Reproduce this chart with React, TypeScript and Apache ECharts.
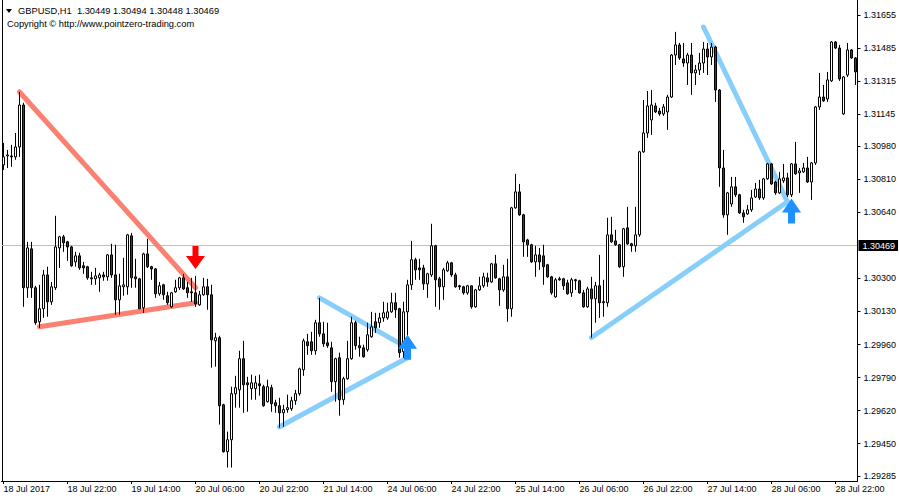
import React, { useEffect, useRef } from 'react';
import * as echarts from 'echarts';

const FONT = '"Liberation Sans", Arial, sans-serif';
const SYMBOL_TITLE = 'GBPUSD,H1';
const HEADER_OHLC = ['1.30449', '1.30494', '1.30448', '1.30469'];
const COPYRIGHT = 'Copyright \u00a9 http://www.pointzero-trading.com';
const CURRENT_PRICE = 1.30469;
const Y_MIN = 1.29258;
const Y_MAX = 1.31732;
const Y_TICKS = [1.29285, 1.2945, 1.2962, 1.2979, 1.2996, 1.3013, 1.303, 1.3064, 1.3081, 1.3098, 1.31145, 1.31315, 1.31485, 1.31655];
const X_TICK_LABELS = ['18 Jul 2017', '18 Jul 22:00', '19 Jul 14:00', '20 Jul 06:00', '20 Jul 22:00', '21 Jul 14:00', '24 Jul 06:00', '24 Jul 22:00', '25 Jul 14:00', '26 Jul 06:00', '26 Jul 22:00', '27 Jul 14:00', '28 Jul 06:00', '28 Jul 22:00'];

const OPEN = [
  1.30884, 1.3093, 1.3093, 1.30925, 1.30976, 1.31192, 1.30252, 1.30452, 1.30252, 1.30077,
  1.30144, 1.30318, 1.3018, 1.30252, 1.30457, 1.30514, 1.30488, 1.30462, 1.30385, 1.30416,
  1.30365, 1.3036, 1.30303, 1.30298, 1.30303, 1.30318, 1.30308, 1.30421, 1.30318, 1.3019,
  1.30257, 1.30257, 1.30519, 1.30308, 1.30298, 1.30149, 1.30426, 1.3036, 1.30349, 1.30221,
  1.30267, 1.30211, 1.30154, 1.30231, 1.30252, 1.30303, 1.30252, 1.30231, 1.30226, 1.30164,
  1.30216, 1.30257, 1.30216, 1.29979, 1.29995, 1.2965, 1.29409, 1.2947, 1.29707, 1.29727,
  1.29887, 1.29763, 1.29733, 1.29733, 1.29758, 1.29743, 1.29666, 1.29738, 1.29661, 1.29645,
  1.29609, 1.29625, 1.2963, 1.29671, 1.29707, 1.2983, 1.29974, 1.29974, 1.29928, 1.30072,
  1.30015, 1.29969, 1.29943, 1.29769, 1.29892, 1.29676, 1.29784, 1.29887, 1.30072, 1.29954,
  1.29943, 1.29933, 1.3, 1.30077, 1.30072, 1.30097, 1.30097, 1.30128, 1.30175, 1.30144,
  1.29923, 1.30128, 1.30267, 1.30396, 1.30354, 1.30354, 1.30272, 1.30318, 1.30468, 1.30298,
  1.30257, 1.30339, 1.3038, 1.30318, 1.30262, 1.30257, 1.30226, 1.30262, 1.30154, 1.30241,
  1.30262, 1.30303, 1.30282, 1.30375, 1.30298, 1.30241, 1.30308, 1.30144, 1.30663, 1.30745,
  1.30627, 1.30498, 1.30473, 1.30385, 1.30421, 1.30416, 1.3037, 1.30308, 1.30205, 1.30298,
  1.30298, 1.30277, 1.30226, 1.30293, 1.30288, 1.30226, 1.30154, 1.30246, 1.30195, 1.30262,
  1.3018, 1.30175, 1.30524, 1.30493, 1.30473, 1.3036, 1.3056, 1.30478, 1.30468, 1.30524,
  1.30951, 1.31048, 1.31115, 1.31187, 1.31161, 1.31146, 1.31156, 1.31233, 1.31449, 1.31501,
  1.31429, 1.31408, 1.31449, 1.31357, 1.31372, 1.31408, 1.3148, 1.31439, 1.3149, 1.31269,
  1.30868, 1.30627, 1.30683, 1.30771, 1.3073, 1.30637, 1.30632, 1.30653, 1.30719, 1.3076,
  1.30714, 1.30812, 1.30889, 1.30796, 1.3074, 1.30802, 1.30817, 1.3073, 1.30889, 1.30843,
  1.30848, 1.30868, 1.30796, 1.30894, 1.31182, 1.31233, 1.31223, 1.31316, 1.31516, 1.31485,
  1.31146, 1.31346, 1.31475, 1.31434,
];
const CLOSE = [
  1.30925, 1.30935, 1.30925, 1.30976, 1.31192, 1.30252, 1.30457, 1.30252, 1.30072, 1.30144,
  1.30318, 1.3018, 1.30257, 1.30462, 1.30514, 1.30483, 1.30462, 1.30365, 1.30416, 1.30354,
  1.30354, 1.30303, 1.30298, 1.30313, 1.30318, 1.30308, 1.30421, 1.30318, 1.3019, 1.30262,
  1.30267, 1.30524, 1.30303, 1.30298, 1.30144, 1.30426, 1.3036, 1.30349, 1.30221, 1.30262,
  1.30216, 1.30175, 1.30226, 1.30252, 1.30303, 1.30246, 1.30226, 1.30226, 1.30169, 1.30216,
  1.30257, 1.30216, 1.29984, 1.29995, 1.29645, 1.29409, 1.2947, 1.29707, 1.29738, 1.29887,
  1.29753, 1.29753, 1.29763, 1.29763, 1.29748, 1.29645, 1.29743, 1.29655, 1.29645, 1.29609,
  1.29625, 1.29635, 1.29671, 1.29707, 1.29835, 1.29979, 1.29954, 1.29928, 1.30072, 1.30015,
  1.29964, 1.29954, 1.29769, 1.29887, 1.29676, 1.29784, 1.29887, 1.30072, 1.29954, 1.29943,
  1.29897, 1.3001, 1.30051, 1.30046, 1.30097, 1.30123, 1.30128, 1.30175, 1.30139, 1.29918,
  1.30128, 1.30267, 1.30396, 1.30344, 1.30344, 1.30272, 1.30324, 1.30468, 1.30293, 1.30257,
  1.30344, 1.3038, 1.30318, 1.30257, 1.30257, 1.30226, 1.30262, 1.30154, 1.30241, 1.30262,
  1.30308, 1.30282, 1.30375, 1.30303, 1.30241, 1.30308, 1.30144, 1.30663, 1.30745, 1.30627,
  1.30488, 1.30473, 1.30385, 1.30421, 1.30385, 1.3036, 1.30308, 1.30226, 1.30293, 1.30293,
  1.30262, 1.30221, 1.30293, 1.30288, 1.30226, 1.30154, 1.30246, 1.30195, 1.30262, 1.30175,
  1.30175, 1.30524, 1.30488, 1.30473, 1.3036, 1.30555, 1.30478, 1.30468, 1.30524, 1.30951,
  1.31048, 1.31187, 1.31192, 1.31156, 1.31146, 1.31182, 1.31233, 1.31449, 1.31501, 1.31434,
  1.31408, 1.31449, 1.31357, 1.31372, 1.31408, 1.3148, 1.31439, 1.3149, 1.31269, 1.30868,
  1.30627, 1.3074, 1.30771, 1.3073, 1.30637, 1.30617, 1.30653, 1.30714, 1.3076, 1.30714,
  1.30812, 1.30889, 1.30786, 1.3074, 1.30812, 1.30817, 1.3073, 1.30889, 1.30838, 1.30853,
  1.30868, 1.30796, 1.30894, 1.31182, 1.31233, 1.31213, 1.31321, 1.31516, 1.31485, 1.31326,
  1.31336, 1.31475, 1.31434, 1.31362,
];
const LOW = [
  1.30858, 1.30868, 1.30874, 1.3091, 1.30925, 1.30154, 1.302, 1.302, 1.30061, 1.30046,
  1.30097, 1.30103, 1.30164, 1.30241, 1.30354, 1.30437, 1.3039, 1.3036, 1.3036, 1.30344,
  1.30324, 1.30293, 1.30267, 1.30267, 1.30231, 1.30288, 1.30288, 1.30303, 1.30113, 1.30113,
  1.30211, 1.30216, 1.30252, 1.30252, 1.30144, 1.30123, 1.30354, 1.30293, 1.302, 1.30211,
  1.3019, 1.30164, 1.30149, 1.30226, 1.30241, 1.30241, 1.302, 1.3018, 1.30154, 1.30159,
  1.30211, 1.30139, 1.29841, 1.29846, 1.29548, 1.29404, 1.29327, 1.29327, 1.29635, 1.29635,
  1.29609, 1.29614, 1.29676, 1.29676, 1.29697, 1.2964, 1.29661, 1.29614, 1.29609, 1.29532,
  1.29537, 1.29609, 1.29619, 1.2965, 1.29697, 1.29799, 1.29907, 1.29907, 1.29907, 1.3,
  1.29948, 1.29943, 1.29717, 1.29666, 1.29594, 1.2965, 1.29779, 1.29882, 1.29933, 1.29897,
  1.29892, 1.29923, 1.29995, 1.3002, 1.30046, 1.30077, 1.30087, 1.30123, 1.30097, 1.29892,
  1.29892, 1.29974, 1.30241, 1.30293, 1.30293, 1.30241, 1.302, 1.30308, 1.30154, 1.30139,
  1.3019, 1.30334, 1.30308, 1.30252, 1.30241, 1.30216, 1.30216, 1.30144, 1.30149, 1.30236,
  1.30252, 1.30257, 1.30277, 1.30298, 1.30159, 1.30231, 1.30077, 1.30103, 1.30658, 1.30622,
  1.30411, 1.30411, 1.3038, 1.30308, 1.30344, 1.30267, 1.30303, 1.30216, 1.302, 1.30288,
  1.30241, 1.30216, 1.30205, 1.30241, 1.30221, 1.30149, 1.30149, 1.29995, 1.30072, 1.30097,
  1.30103, 1.30154, 1.30483, 1.30468, 1.30354, 1.30308, 1.30473, 1.30437, 1.30437, 1.30514,
  1.30946, 1.31023, 1.31038, 1.31151, 1.31136, 1.31136, 1.31064, 1.31228, 1.31398, 1.31424,
  1.31388, 1.31295, 1.31244, 1.31295, 1.31346, 1.31357, 1.31346, 1.31398, 1.31208, 1.30771,
  1.30612, 1.30524, 1.30668, 1.30719, 1.30632, 1.30586, 1.30627, 1.30642, 1.30714, 1.30704,
  1.30704, 1.30807, 1.30781, 1.3073, 1.30735, 1.30791, 1.30719, 1.30719, 1.30833, 1.3074,
  1.30843, 1.30791, 1.30704, 1.30884, 1.31167, 1.31208, 1.31208, 1.3131, 1.3148, 1.31316,
  1.31141, 1.31336, 1.31429, 1.31295,
];
const HIGH = [
  1.30997, 1.30961, 1.30987, 1.31048, 1.31259, 1.31203, 1.30488, 1.30488, 1.30262, 1.30267,
  1.30344, 1.3036, 1.30282, 1.30622, 1.30519, 1.30524, 1.30493, 1.30468, 1.30437, 1.30432,
  1.30385, 1.30365, 1.30334, 1.30354, 1.30329, 1.30334, 1.30426, 1.30478, 1.30473, 1.30324,
  1.30406, 1.30529, 1.30534, 1.30401, 1.30303, 1.30432, 1.30504, 1.30365, 1.30354, 1.30282,
  1.30272, 1.30231, 1.30231, 1.30293, 1.30308, 1.30324, 1.30282, 1.30303, 1.30313, 1.30236,
  1.30303, 1.30298, 1.30267, 1.3002, 1.30005, 1.29655, 1.29512, 1.29743, 1.29799, 1.29928,
  1.29979, 1.29794, 1.29805, 1.29799, 1.29805, 1.29753, 1.29779, 1.29753, 1.29676, 1.29686,
  1.2965, 1.29702, 1.29691, 1.29727, 1.29841, 1.2999, 1.30015, 1.30025, 1.30087, 1.302,
  1.30077, 1.30072, 1.29974, 1.29892, 1.29918, 1.29794, 1.29979, 1.30103, 1.30082, 1.3,
  1.29959, 1.30072, 1.30128, 1.30123, 1.30123, 1.3018, 1.30175, 1.30226, 1.30226, 1.30149,
  1.3018, 1.30293, 1.30493, 1.30406, 1.30401, 1.3037, 1.30329, 1.30581, 1.30473, 1.30308,
  1.30354, 1.3039, 1.30385, 1.30329, 1.30267, 1.30262, 1.30267, 1.30262, 1.30246, 1.30308,
  1.30329, 1.30329, 1.3038, 1.30421, 1.30303, 1.3037, 1.30401, 1.30668, 1.30838, 1.30786,
  1.30632, 1.30504, 1.30478, 1.30468, 1.30457, 1.30473, 1.30375, 1.30313, 1.30303, 1.30308,
  1.30303, 1.30293, 1.30303, 1.30298, 1.30293, 1.30241, 1.30257, 1.30308, 1.30282, 1.30421,
  1.30293, 1.30612, 1.30617, 1.3055, 1.30478, 1.3056, 1.30668, 1.30483, 1.30668, 1.30956,
  1.31218, 1.31264, 1.31269, 1.31203, 1.31177, 1.31197, 1.31244, 1.31454, 1.31568, 1.31511,
  1.31511, 1.3146, 1.31511, 1.31398, 1.3146, 1.31516, 1.31511, 1.31511, 1.31496, 1.31274,
  1.30961, 1.30745, 1.30822, 1.30822, 1.30735, 1.30653, 1.30678, 1.30755, 1.30791, 1.30807,
  1.30817, 1.30894, 1.30894, 1.30802, 1.30848, 1.30889, 1.30843, 1.30894, 1.31002, 1.30868,
  1.30894, 1.30925, 1.30899, 1.31187, 1.31357, 1.31295, 1.31362, 1.31521, 1.31521, 1.31501,
  1.31341, 1.31511, 1.3148, 1.31439,
];

// trend lines: [barIndex, price] end points
const RED_LINES = [
  [[4, 1.31259], [48, 1.30252]],
  [[9, 1.30051], [48, 1.30175]],
];
const BLUE_LINES = [
  [[79, 1.302], [100, 1.29954]],
  [[69, 1.29537], [101, 1.29892]],
  [[147, 1.29996], [196, 1.30694]],
  [[175, 1.31593], [196, 1.30694]],
];
const SELL_ARROWS = [[48, 1.30408]];
const BUY_ARROWS = [[101, 1.29946], [197, 1.30647]];

const MONTHS = ['Jan', 'Feb', 'Mar', 'Apr', 'May', 'Jun', 'Jul', 'Aug', 'Sep', 'Oct', 'Nov', 'Dec'];
function buildCategories(n: number): string[] {
  const out: string[] = [];
  let t = Date.UTC(2017, 6, 18, 6);
  while (out.length < n) {
    const d = new Date(t);
    const wd = d.getUTCDay();
    if (wd !== 0 && wd !== 6) {
      out.push(`${d.getUTCDate()} ${MONTHS[d.getUTCMonth()]} ${String(d.getUTCHours()).padStart(2, '0')}:00`);
    }
    t += 3600000;
  }
  return out;
}

const DOWN_ARROW = 'path://M6.5,0 L12.5,0 L12.5,10 L19,10 L9.5,23 L0,10 L6.5,10 Z';
const UP_ARROW = 'path://M9.5,0 L19,14 L13,14 L13,25 L6,25 L6,14 L0,14 Z';

export default function App() {
  const ref = useRef<HTMLDivElement>(null);
  useEffect(() => {
    if (!ref.current) return;
    const chart = echarts.init(ref.current, undefined, { renderer: 'svg' });
    const categories = buildCategories(OPEN.length);
    const candles = OPEN.map((o, i) => [o, CLOSE[i], LOW[i], HIGH[i]]);
    const lineSeries = [
      ...RED_LINES.map((pts) => ({ color: '#fa8072', pts })),
      ...BLUE_LINES.map((pts) => ({ color: '#87cefa', pts })),
    ].map((l) => ({
      type: 'line',
      data: l.pts,
      symbol: 'none',
      silent: true,
      z: 1,
      lineStyle: { color: l.color, width: 5, cap: 'round' },
    }));
    const option: any = {
      animation: false,
      backgroundColor: '#ffffff',
      textStyle: { fontFamily: FONT },
      grid: { left: 1.5, right: 42.5, top: 0, bottom: 19, containLabel: false },
      xAxis: {
        type: 'category',
        data: categories,
        boundaryGap: true,
        axisLine: { show: true, lineStyle: { color: '#000', width: 1 } },
        axisTick: { show: true, alignWithLabel: true, interval: 15, length: 3, lineStyle: { color: '#000' } },
        axisLabel: {
          interval: 15,
          align: 'left',
          margin: 3,
          fontSize: 9,
          color: '#000',
          fontFamily: FONT,
          formatter: (_v: string, i: number) => X_TICK_LABELS[i / 16] ?? '',
        },
        splitLine: { show: false },
      },
      yAxis: {
        type: 'value',
        position: 'right',
        min: Y_MIN,
        max: Y_MAX,
        axisLine: { show: true, lineStyle: { color: '#000', width: 1 } },
        axisTick: { show: true, length: 3, customValues: Y_TICKS, lineStyle: { color: '#000' } },
        axisLabel: {
          customValues: Y_TICKS,
          formatter: (v: number) => v.toFixed(5),
          fontSize: 9,
          color: '#000',
          margin: 6,
          fontFamily: FONT,
        },
        splitLine: { show: false },
      },
      graphic: [
        { type: 'line', shape: { x1: 2.5, y1: 0, x2: 2.5, y2: 481 }, style: { stroke: '#000', lineWidth: 1 }, silent: true },
        { type: 'polygon', shape: { points: [[6, 9], [12, 9], [9, 13]] }, style: { fill: '#000' }, silent: true },
        {
          type: 'text', x: 18, y: 10.5, silent: true,
          style: { text: `${SYMBOL_TITLE}  ${HEADER_OHLC.join(' ')}`, fill: '#000', font: `9.3px ${FONT}`, verticalAlign: 'middle' },
        },
        {
          type: 'text', x: 7, y: 24, silent: true,
          style: { text: COPYRIGHT, fill: '#000', font: `9.3px ${FONT}`, verticalAlign: 'middle' },
        },
      ],
      series: [
        {
          type: 'line',
          data: [],
          z: 0,
          silent: true,
          markLine: {
            silent: true,
            symbol: 'none',
            precision: 5,
            z: 0,
            animation: false,
            lineStyle: { color: '#c0c0c0', width: 1, type: 'solid' },
            label: {
              show: true,
              position: 'end',
              distance: 1,
              formatter: CURRENT_PRICE.toFixed(5),
              backgroundColor: '#000',
              color: '#fff',
              padding: [1, 3, 1, 4],
              fontSize: 9,
              fontFamily: FONT,
            },
            data: [{ yAxis: CURRENT_PRICE }],
          },
        },
        ...lineSeries,
        {
          type: 'candlestick',
          data: candles,
          barWidth: 3,
          z: 2,
          silent: true,
          itemStyle: {
            color: '#ffffff',
            color0: '#d40000',
            borderColor: '#000000',
            borderColor0: '#000000',
            borderColorDoji: '#000000',
            borderWidth: 1,
          },
        },
        {
          type: 'scatter',
          data: SELL_ARROWS,
          symbol: DOWN_ARROW,
          symbolSize: [19, 23],
          z: 3,
          silent: true,
          itemStyle: { color: '#ff0000', opacity: 1 },
        },
        {
          type: 'scatter',
          data: BUY_ARROWS,
          symbol: UP_ARROW,
          symbolSize: [19, 25],
          z: 3,
          silent: true,
          itemStyle: { color: '#1e90ff', opacity: 1 },
        },
      ],
    };
    chart.setOption(option);
    return () => chart.dispose();
  }, []);
  return (
    <div
      ref={ref}
      style={{ position: 'fixed', left: 0, top: 0, width: 900, height: 500, background: '#fff' }}
    />
  );
}
